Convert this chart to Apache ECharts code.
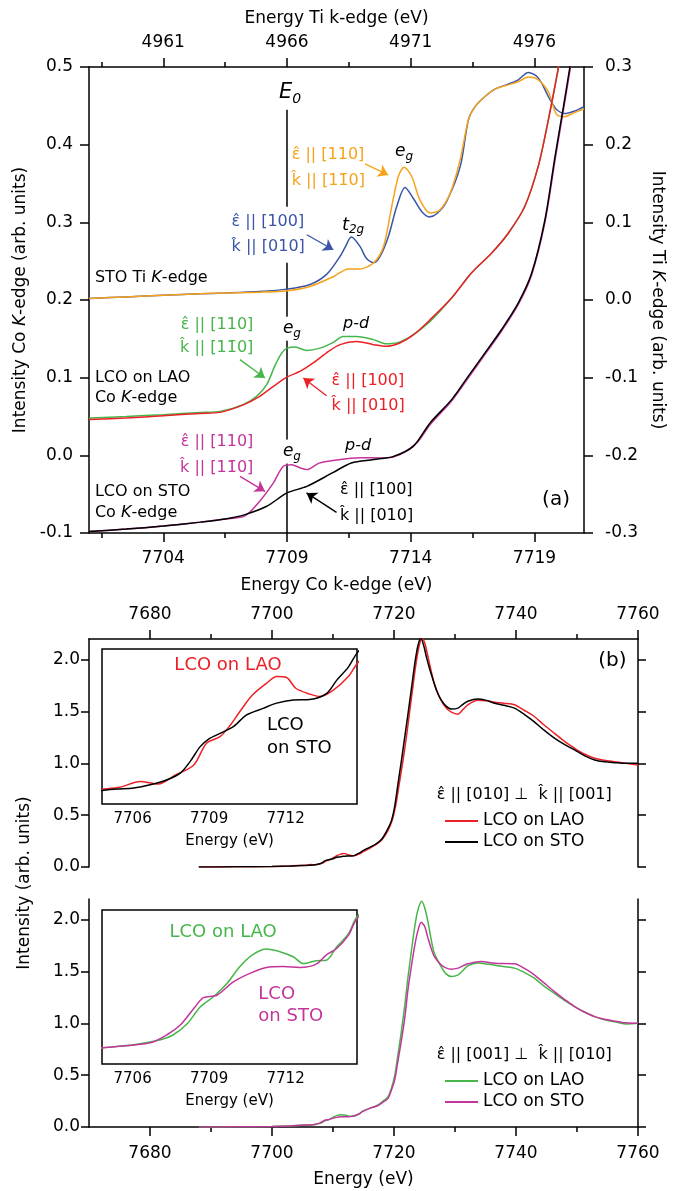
<!DOCTYPE html>
<html><head><meta charset="utf-8">
<script src="https://cdn.jsdelivr.net/npm/echarts@6/dist/echarts.min.js"></script>
<style>html,body{margin:0;padding:0;background:#fff}#c{width:675px;height:1191px}</style>
</head><body><div id="c"></div><script>
// ---------- Panel (a): STO Ti K-edge (top / right axes) ----------
const tiEnergyBlue = [4958.0,4959.5,4961.0,4962.5,4963.5,4964.9,4966.0,4966.93,4967.6,4968.14,4968.35,4968.6,4968.95,4969.2,4969.5,4969.76,4970.1,4970.43,4970.77,4971.1,4971.44,4971.75,4972.05,4972.45,4973.0,4973.33,4973.6,4974.0,4974.4,4974.94,4975.34,4975.75,4976.15,4976.56,4976.76,4976.9,4977.2,4977.6,4978.0];
const tiBlue = [0.002,0.004,0.006,0.008,0.009,0.011,0.014,0.020,0.033,0.056,0.068,0.081,0.069,0.054,0.048,0.056,0.082,0.120,0.145,0.131,0.114,0.107,0.111,0.127,0.172,0.232,0.249,0.262,0.2715,0.278,0.2835,0.293,0.286,0.262,0.251,0.245,0.240,0.243,0.249];
const tiEnergyOrange = [4958,4959.5,4961,4962.5,4963.5,4964.9,4966.0,4966.93,4967.87,4968.48,4968.95,4969.5,4969.9,4970.23,4970.5,4970.73,4971.04,4971.37,4971.78,4972.18,4972.6,4973.0,4973.33,4973.6,4974.0,4974.4,4974.94,4975.34,4975.75,4976.15,4976.56,4976.76,4976.9,4977.2,4977.6,4978.0];
const tiOrange = [0.002,0.004,0.006,0.008,0.009,0.010,0.012,0.0175,0.030,0.040,0.040,0.048,0.069,0.120,0.159,0.171,0.159,0.129,0.112,0.116,0.138,0.181,0.232,0.249,0.262,0.2715,0.277,0.281,0.287,0.2835,0.268,0.249,0.2385,0.236,0.241,0.246];
// ---------- Panel (a): LCO on LAO, Co K-edge ----------
const laoEnergyGreen = [7701,7702.5,7704,7705.48,7706.29,7707.23,7707.77,7708.18,7708.5,7708.79,7709.01,7709.32,7709.79,7710.33,7710.87,7711.27,7711.8,7712.5,7713.0,7713.43,7714.0,7714.78,7715.65,7716.46,7717.27,7717.94,7718.6,7719.15,7719.56,7719.97,7720.3];
const laoGreen = [0.048,0.050,0.0524,0.0553,0.0566,0.0653,0.076,0.091,0.1146,0.132,0.138,0.1395,0.135,0.138,0.1455,0.153,0.153,0.149,0.1437,0.1446,0.153,0.1725,0.2026,0.235,0.2605,0.286,0.320,0.372,0.432,0.50,0.56];
const laoEnergyRed = [7701,7702.5,7704,7705.48,7706.29,7707.23,7707.9,7708.45,7709.01,7709.52,7710.06,7710.6,7711.14,7711.8,7712.5,7713.0,7713.56,7714.1,7714.78,7715.65,7716.46,7717.27,7717.94,7718.6,7719.15,7719.56,7719.97,7720.3];
const laoRed = [0.046,0.048,0.051,0.054,0.0553,0.065,0.076,0.0888,0.1009,0.108,0.119,0.132,0.1425,0.1467,0.1425,0.1403,0.1446,0.155,0.1746,0.2026,0.235,0.2605,0.286,0.320,0.372,0.432,0.50,0.56];
// ---------- Panel (a): LCO on STO, Co K-edge ----------
const stoEnergyMagenta = [7701,7702.5,7704,7705.5,7706.5,7707.3,7707.9,7708.45,7708.85,7709.19,7709.52,7709.8,7710.3,7710.87,7711.95,7713.0,7713.56,7714.24,7714.78,7715.65,7716.32,7717.0,7717.67,7718.34,7718.88,7719.42,7719.83,7720.17,7720.43,7720.7];
const stoMagenta = [-0.098,-0.095,-0.091,-0.086,-0.082,-0.078,-0.059,-0.0355,-0.014,-0.012,-0.016,-0.0184,-0.010,-0.0065,-0.003,-0.0034,0.001,0.016,0.0395,0.070,0.0995,0.130,0.160,0.194,0.232,0.300,0.380,0.445,0.495,0.55];
const stoEnergyBlack = [7701,7702.5,7704,7705.5,7706.5,7707.3,7708.18,7709.0,7709.8,7710.87,7711.6,7712.5,7713.3,7714.1,7714.78,7715.65,7716.32,7717.0,7717.67,7718.34,7718.88,7719.42,7719.83,7720.17,7720.43,7720.7];
const stoBlack = [-0.098,-0.095,-0.091,-0.086,-0.082,-0.0763,-0.0656,-0.0484,-0.040,-0.022,-0.0098,-0.0055,-0.0013,0.0116,0.0417,0.0717,0.1017,0.132,0.162,0.196,0.234,0.303,0.385,0.449,0.50,0.55];
const E0 = 7709;
// ---------- Panel (b), top: eps || [010] ----------
const b1EnergyRed = [7688,7694,7700,7703,7704.8,7705.5,7706.3,7707.0,7707.7,7708.4,7708.9,7709.43,7709.82,7710.2,7710.7,7711.25,7711.65,7712.04,7712.4,7712.95,7713.35,7713.87,7714.46,7714.8,7716,7717,7718,7719,7719.7,7720.3,7720.8,7721.4,7722.0,7722.5,7723.1,7723.6,7724.1,7724.6,7725.1,7725.6,7726.1,7726.6,7727.3,7728.0,7729.0,7730.5,7731.3,7732.1,7733.7,7735,7736.5,7738,7739.75,7741.4,7743,7744.6,7746.3,7748,7749.6,7751.2,7752.9,7754.5,7756.1,7758,7760];
const b1Red = [0.0,0.002,0.005,0.010,0.015,0.017,0.023,0.0203,0.0298,0.0398,0.062,0.0687,0.080,0.094,0.111,0.123,0.130,0.129,0.118,0.112,0.1095,0.116,0.130,0.143,0.18,0.215,0.26,0.35,0.45,0.60,0.78,1.00,1.24,1.47,1.74,1.96,2.13,2.21,2.15,2.02,1.89,1.77,1.66,1.58,1.51,1.475,1.52,1.565,1.61,1.605,1.59,1.58,1.565,1.51,1.452,1.37,1.29,1.21,1.146,1.09,1.049,1.03,1.016,1.0,0.984];
const b1EnergyBlack = [7688,7694,7700,7703,7704.8,7705.4,7706.04,7706.69,7707.35,7707.87,7708.26,7708.65,7708.97,7709.43,7709.95,7710.47,7711.12,7711.65,7712.3,7712.95,7713.6,7714.0,7714.46,7714.8,7716,7717,7718,7719,7719.6,7720.1,7720.6,7721.2,7721.8,7722.3,7722.9,7723.4,7723.9,7724.4,7724.9,7725.3,7725.8,7726.4,7727.0,7727.7,7728.5,7729.4,7730.5,7731.3,7732.1,7733.7,7735,7736.5,7738,7739.75,7741.4,7743,7744.6,7746.3,7748,7749.6,7751.2,7752.9,7754.5,7756.1,7758,7760];
const b1Black = [0.0,0.002,0.005,0.009,0.0138,0.0152,0.0163,0.0196,0.0247,0.0315,0.0435,0.0585,0.066,0.072,0.0788,0.0908,0.0975,0.1028,0.106,0.1065,0.1125,0.126,0.1395,0.1538,0.19,0.22,0.27,0.37,0.45,0.58,0.78,1.02,1.27,1.48,1.74,1.96,2.13,2.21,2.13,2.03,1.92,1.807,1.70,1.614,1.555,1.524,1.533,1.57,1.60,1.62,1.61,1.58,1.56,1.533,1.47,1.40,1.32,1.243,1.18,1.13,1.075,1.033,1.015,1.007,1.0,1.0];
// ---------- Panel (b), bottom: eps || [001] ----------
const b2EnergyGreen = [7688,7694,7700,7703,7704.8,7706.04,7707.1,7707.6,7708.16,7708.65,7709.17,7709.7,7710.2,7710.7,7711.25,7711.8,7712.3,7712.7,7713.2,7713.6,7714.0,7714.46,7714.8,7716,7717.3,7718.2,7719,7719.6,7720.1,7720.6,7721.2,7721.8,7722.3,7722.9,7723.4,7723.9,7724.56,7725.0,7725.5,7726.0,7726.6,7727.7,7728.5,7729.4,7730.5,7731.3,7732.1,7733.7,7735.5,7737,7739.75,7741.4,7743,7744.6,7746.3,7748,7749.6,7751.2,7752.9,7754.5,7756.1,7758.3,7760];
const b2Green = [0.0,0.002,0.005,0.010,0.0164,0.0197,0.0248,0.030,0.0419,0.0585,0.069,0.0825,0.0998,0.112,0.118,0.115,0.110,0.103,0.106,0.1065,0.12,0.1335,0.151,0.18,0.21,0.25,0.29,0.38,0.49,0.68,0.92,1.19,1.45,1.72,1.93,2.09,2.178,2.12,2.0,1.84,1.678,1.549,1.48,1.452,1.468,1.51,1.556,1.582,1.57,1.556,1.533,1.49,1.436,1.36,1.29,1.22,1.162,1.11,1.065,1.035,1.016,0.994,1.0];
const b2EnergyMagenta = [7688,7694,7700,7703,7704.8,7706.69,7707.35,7707.87,7708.4,7708.78,7709.3,7709.95,7710.6,7711.25,7711.9,7712.56,7713.2,7713.6,7714.0,7714.46,7714.8,7716,7717.3,7718.2,7719,7719.6,7720.1,7720.6,7721.2,7721.8,7722.3,7722.9,7723.4,7723.9,7724.46,7725.0,7725.5,7726.0,7726.6,7727.7,7728.5,7729.4,7730.5,7731.3,7732.1,7734.3,7736.5,7739.75,7741.4,7743,7744.6,7746.3,7748,7749.6,7751.2,7752.9,7754.5,7756.1,7758,7760];
const b2Magenta = [0.0,0.002,0.005,0.010,0.0165,0.0218,0.030,0.040,0.057,0.068,0.0705,0.0843,0.093,0.099,0.10,0.099,0.1024,0.112,0.1185,0.132,0.149,0.18,0.205,0.24,0.274,0.36,0.45,0.62,0.83,1.07,1.33,1.57,1.75,1.89,1.975,1.94,1.839,1.74,1.646,1.565,1.535,1.523,1.533,1.555,1.575,1.597,1.58,1.575,1.53,1.468,1.39,1.307,1.23,1.162,1.11,1.065,1.04,1.023,1.005,1.0];
// ---------- Tick values ----------
const aCoTicks = [7704,7709,7714,7719];
const aCoMinor = [7701.5,7706.5,7711.5,7716.5];
const aTiTicks = [4961,4966,4971,4976];
const aTiMinor = [4958.5,4963.5,4968.5,4973.5];
const aLeftTicks = [-0.1,0,0.1,0.2,0.3,0.4,0.5];
const aRightTicks = [-0.3,-0.2,-0.1,0,0.1,0.2,0.3];
const bTicks = [7680,7700,7720,7740,7760];
const bMinor = [7690,7710,7730,7750];
const bYTicks = [0,0.5,1,1.5,2];
const insetTicks = [7706,7709,7712];
const insetMinor = [7705,7707,7708,7710,7711,7713,7714];

const F = 'DejaVu Sans';
const K = '#000';
const COL = {blue:'#3a55a6', orange:'#f6a31b', green:'#46b64a', red:'#ec2027', magenta:'#c4359b'};
const EPS = '\u03b5\u0302', KH = 'k\u0302', ONEBAR = '1\u0304';
const zip = (xs, ys) => xs.map((x, i) => [x, ys[i]]);

const RICH = {
  i:{fontStyle:'italic', fontFamily:F, fontSize:16, color:K},
  n:{fontFamily:F, fontSize:16, color:K},
  e:{fontStyle:'italic', fontFamily:F, fontSize:17, lineHeight:22, color:K},
  g:{fontStyle:'italic', fontFamily:F, fontSize:12, lineHeight:12, verticalAlign:'bottom', color:K},
  E:{fontStyle:'italic', fontFamily:F, fontSize:21, lineHeight:26, color:K},
  s:{fontStyle:'italic', fontFamily:F, fontSize:14, lineHeight:12, verticalAlign:'bottom', color:K},
  t:{fontStyle:'italic', fontFamily:F, fontSize:18, lineHeight:22, color:K}
};
function mp(coord, text, o) {
  o = o || {};
  const lab = {show:true, formatter:text, position:o.pos || 'inside', distance:0,
    color:o.color || K, fontSize:o.size || 16, fontFamily:F, rich:RICH,
    fontStyle:o.italic ? 'italic' : 'normal'};
  if (o.lh) lab.lineHeight = o.lh;
  if (o.bg) { lab.backgroundColor = o.bg; lab.padding = o.pad || [2,1]; }
  return {coord:coord, symbol:'circle', symbolSize:0, label:lab};
}
function arrow(from, to, color) {
  return [{coord:from, lineStyle:{color:color, width:1.4, type:'solid'}}, {coord:to}];
}
const lineW = 1.5;
function curve(name, xs, ys, color, xi, yi, extra) {
  return Object.assign({name:name, type:'line', xAxisIndex:xi, yAxisIndex:yi, data:zip(xs, ys),
    showSymbol:false, symbol:'none', clip:true, animation:false, silent:true, smooth:0.3,
    lineStyle:{color:color, width:lineW}, itemStyle:{color:color}, z:3}, extra || {});
}
const axLine = {show:true, onZero:false, lineStyle:{color:K, width:1.5}};
const noLine = {show:false, onZero:false};
const plain = v => String(+v);
const lbl = (vals, size, margin, fmt) => ({show:true, customValues:vals, fontSize:size, margin:margin, color:K, fontFamily:F, formatter:fmt || plain});
const tick = (vals, len, inside) => ({show:true, customValues:vals, length:len, inside:!!inside, lineStyle:{color:K, width:1.5}});
const nameTS = {fontSize:17, color:K, fontFamily:F, rich:{i:{fontStyle:'italic', fontSize:17, color:K, fontFamily:F}}};
const f1 = v => (+v).toFixed(1);

const grids = [
  {left:89, top:67, width:495, height:466},            // 0 panel a
  {left:89, top:67, width:495, height:466},            // 1 panel a minor ticks
  {left:89, top:639, width:549, height:228},           // 2 b top
  {left:89, top:639, width:549, height:228},           // 3 b top minor
  {left:89, top:899, width:549, height:228},           // 4 b bottom
  {left:89, top:899, width:549, height:228},           // 5 b bottom minor
  {left:102, top:649, width:255, height:155, show:true, backgroundColor:'#fff', borderColor:K, borderWidth:1.5, z:1}, // 6 inset 1
  {left:102, top:649, width:255, height:155},          // 7 inset 1 minor
  {left:102, top:910, width:255, height:154, show:true, backgroundColor:'#fff', borderColor:K, borderWidth:1.5, z:1}, // 8 inset 2
  {left:102, top:910, width:255, height:154}           // 9 inset 2 minor
];
const base = {type:'value', splitLine:{show:false}};
const xAxes = [
  Object.assign({}, base, {gridIndex:0, position:'bottom', min:7701, max:7721, axisLine:axLine, axisTick:tick(aCoTicks, 9), axisLabel:lbl(aCoTicks, 17, 17),
    name:'Energy Co k-edge (eV)', nameLocation:'middle', nameGap:44, nameTextStyle:nameTS}),
  Object.assign({}, base, {gridIndex:0, position:'top', min:4958, max:4978, axisLine:axLine, axisTick:tick(aTiTicks, 9), axisLabel:lbl(aTiTicks, 17, 16),
    name:'Energy Ti k-edge (eV)', nameLocation:'middle', nameGap:40, nameTextStyle:nameTS}),
  Object.assign({}, base, {gridIndex:1, position:'bottom', min:7701, max:7721, axisLine:noLine, axisTick:tick(aCoMinor, 5), axisLabel:{show:false}}),
  Object.assign({}, base, {gridIndex:1, position:'top', min:4958, max:4978, axisLine:noLine, axisTick:tick(aTiMinor, 5), axisLabel:{show:false}}),
  Object.assign({}, base, {gridIndex:2, position:'top', min:7670, max:7760, axisLine:axLine, axisTick:tick(bTicks, 9), axisLabel:lbl(bTicks, 17, 16)}),
  Object.assign({}, base, {gridIndex:3, position:'top', min:7670, max:7760, axisLine:noLine, axisTick:tick(bMinor, 5), axisLabel:{show:false}}),
  Object.assign({}, base, {gridIndex:4, position:'bottom', min:7670, max:7760, axisLine:axLine, axisTick:tick(bTicks, 9), axisLabel:lbl(bTicks, 17, 18),
    name:'Energy (eV)', nameLocation:'middle', nameGap:44, nameTextStyle:nameTS}),
  Object.assign({}, base, {gridIndex:5, position:'bottom', min:7670, max:7760, axisLine:noLine, axisTick:tick(bMinor, 5), axisLabel:{show:false}}),
  Object.assign({}, base, {gridIndex:6, position:'bottom', min:7704.8, max:7714.8, axisLine:noLine, axisTick:tick(insetTicks, 8, true), axisLabel:lbl(insetTicks, 15, 8),
    name:'Energy (eV)', nameLocation:'middle', nameGap:30, nameTextStyle:{fontSize:15, color:K, fontFamily:F}}),
  Object.assign({}, base, {gridIndex:7, position:'bottom', min:7704.8, max:7714.8, axisLine:noLine, axisTick:tick(insetMinor, 5, true), axisLabel:{show:false}}),
  Object.assign({}, base, {gridIndex:8, position:'bottom', min:7704.8, max:7714.8, axisLine:noLine, axisTick:tick(insetTicks, 8, true), axisLabel:lbl(insetTicks, 15, 8),
    name:'Energy (eV)', nameLocation:'middle', nameGap:30, nameTextStyle:{fontSize:15, color:K, fontFamily:F}}),
  Object.assign({}, base, {gridIndex:9, position:'bottom', min:7704.8, max:7714.8, axisLine:noLine, axisTick:tick(insetMinor, 5, true), axisLabel:{show:false}})
];
const hiddenY = (g, min, max) => Object.assign({}, base, {gridIndex:g, show:false, min:min, max:max});
const yAxes = [
  Object.assign({}, base, {gridIndex:0, position:'left', min:-0.1, max:0.5, axisLine:axLine, axisTick:tick(aLeftTicks, 9), axisLabel:lbl(aLeftTicks, 17, 16, f1),
    name:'Intensity Co {i|K}-edge (arb. units)', nameLocation:'middle', nameGap:54, nameTextStyle:nameTS}),
  Object.assign({}, base, {gridIndex:0, position:'right', min:-0.3, max:0.3, axisLine:axLine, axisTick:tick(aRightTicks, 9), axisLabel:lbl(aRightTicks, 17, 21, f1),
    name:'Intensity Ti {i|K}-edge (arb. units)', nameLocation:'middle', nameGap:64, nameRotate:-90, nameTextStyle:nameTS}),
  hiddenY(1, -0.1, 0.5),
  Object.assign({}, base, {gridIndex:2, position:'left', min:0, max:2.2, axisLine:axLine, axisTick:tick(bYTicks, 8), axisLabel:lbl(bYTicks, 17, 9, f1)}),
  Object.assign({}, base, {gridIndex:2, position:'right', min:0, max:2.2, axisLine:axLine, axisTick:tick(bYTicks, 8), axisLabel:{show:false}}),
  hiddenY(3, 0, 2.2),
  Object.assign({}, base, {gridIndex:4, position:'left', min:0, max:2.2, axisLine:axLine, axisTick:tick(bYTicks, 8), axisLabel:lbl(bYTicks, 17, 9, f1)}),
  Object.assign({}, base, {gridIndex:4, position:'right', min:0, max:2.2, axisLine:axLine, axisTick:tick(bYTicks, 8), axisLabel:{show:false}}),
  hiddenY(5, 0, 2.2),
  hiddenY(6, 0, 0.158),
  hiddenY(7, 0, 0.158),
  hiddenY(8, 0, 0.158),
  hiddenY(9, 0, 0.158)
];

const l110 = EPS + ' || [110]\n' + KH + ' || [1' + ONEBAR + '0]';
const l100 = EPS + ' || [100]\n' + KH + ' || [010]';
const annotA = {
  symbol:'circle', symbolSize:0, silent:true, animation:false, z:6,
  data:[
    mp([7708.68, 0.4667], '{E|E}{s|0}', {pos:'right'}),
    mp([7706.76, 0.284], l100, {pos:'right', color:COL.blue, lh:25, bg:'#fff', pad:[3,0,3,0]}),
    mp([7711.67, 0.2965], '{t|t}{g|2g}'),
    mp([7709.19, 0.370], l110, {pos:'right', color:COL.orange, lh:26}),
    mp([7713.73, 0.391], '{e|e}{g|g}'),
    mp([7701.24, 0.2283], '{n|STO Ti }{i|K}{n|-edge}', {pos:'right'}),
    mp([7701.24, 0.0871], '{n|LCO on LAO}\n{n|Co }{i|K}{n|-edge}', {pos:'right', lh:20}),
    mp([7707.64, 0.153], l110, {pos:'left', color:COL.green, lh:23}),
    mp([7709.2, 0.163], '{e|e}{g|g}', {bg:'#fff', pad:[1,1]}),
    mp([7711.79, 0.1695], 'p-d', {italic:true}),
    mp([7710.80, 0.0794], l100, {pos:'right', color:COL.red, lh:25}),
    mp([7707.64, 0.0009], l110, {pos:'left', color:COL.magenta, lh:26}),
    mp([7709.2, 0.0048], '{e|e}{g|g}', {bg:'#fff', pad:[1,1]}),
    mp([7711.87, 0.0118], 'p-d', {italic:true}),
    mp([7701.24, -0.0602], '{n|LCO on STO}\n{n|Co }{i|K}{n|-edge}', {pos:'right', lh:21}),
    mp([7711.14, -0.0613], l100, {pos:'right', color:K, lh:26}),
    mp([7719.87, -0.057], '(a)', {size:20})
  ]
};
const arrowsA = {
  silent:true, animation:false, symbol:['none','arrow'], symbolSize:10, label:{show:false}, z:6,
  data:[
    arrow([7709.80, 0.2840], [7710.87, 0.2647], COL.blue),
    arrow([7712.15, 0.3754], [7713.09, 0.361], COL.orange),
    arrow([7707.10, 0.1232], [7708.11, 0.0996], COL.green),
    arrow([7710.60, 0.0768], [7709.66, 0.0996], COL.red),
    arrow([7707.10, -0.027], [7708.11, -0.0463], COL.magenta),
    arrow([7711.00, -0.0734], [7709.79, -0.0484], K)
  ]
};
const hdr1 = EPS + ' || [010] \u22a5  ' + KH + ' || [001]';
const hdr2 = EPS + ' || [001] \u22a5  ' + KH + ' || [010]';

const series = [
  curve('Ti e||[100]', tiEnergyBlue, tiBlue, COL.blue, 1, 1),
  curve('Ti e||[110]', tiEnergyOrange, tiOrange, COL.orange, 1, 1),
  curve('LAO e||[110]', laoEnergyGreen, laoGreen, COL.green, 0, 0),
  curve('LAO e||[100]', laoEnergyRed, laoRed, COL.red, 0, 0),
  curve('STO e||[110]', stoEnergyMagenta, stoMagenta, COL.magenta, 0, 0),
  curve('STO e||[100]', stoEnergyBlack, stoBlack, K, 0, 0),
  {name:'E0', type:'line', xAxisIndex:0, yAxisIndex:0, data:[[E0, -0.1], [E0, 0.445]], symbol:'none', silent:true, animation:false,
    lineStyle:{color:K, width:1.5}, z:2, markPoint:annotA, markLine:arrowsA},
  curve('b1|LCO on LAO', b1EnergyRed, b1Red, COL.red, 4, 3, {markPoint:{symbolSize:0, silent:true, animation:false, data:[
    mp([7755.8, 1.985], '(b)', {size:20}),
    mp([7727.0, 0.694], hdr1, {pos:'right'})
  ]}}),
  curve('b1|LCO on STO', b1EnergyBlack, b1Black, K, 4, 3),
  curve('b2|LCO on LAO', b2EnergyGreen, b2Green, COL.green, 6, 6, {markPoint:{symbolSize:0, silent:true, animation:false, data:[
    mp([7727.0, 0.694], hdr2, {pos:'right'})
  ]}}),
  curve('b2|LCO on STO', b2EnergyMagenta, b2Magenta, COL.magenta, 6, 6),
  curve('i1|LCO on LAO', b1EnergyRed, b1Red, COL.red, 8, 9, {z:5, markPoint:{symbolSize:0, silent:true, animation:false, data:[
    mp([7709.74, 0.1415], 'LCO on LAO', {color:COL.red, size:18}),
    mp([7711.27, 0.0687], 'LCO\non STO', {pos:'right', color:K, size:18, lh:23})
  ]}}),
  curve('i1|LCO on STO', b1EnergyBlack, b1Black, K, 8, 9, {z:5}),
  curve('i2|LCO on LAO', b2EnergyGreen, b2Green, COL.green, 10, 11, {z:5, markPoint:{symbolSize:0, silent:true, animation:false, data:[
    mp([7709.55, 0.1354], 'LCO on LAO', {color:COL.green, size:18}),
    mp([7710.93, 0.0597], 'LCO\non STO', {pos:'right', color:COL.magenta, size:18, lh:22})
  ]}}),
  curve('i2|LCO on STO', b2EnergyMagenta, b2Magenta, COL.magenta, 10, 11, {z:5})
];

const legendBase = {orient:'vertical', icon:'rect', itemWidth:33, itemHeight:2, itemGap:1, selectedMode:false,
  textStyle:{fontSize:17, lineHeight:20, color:K, fontFamily:F}, formatter:n => n.split('|')[1], left:440};
const option = {
  animation:false,
  backgroundColor:'#fff',
  grid:grids,
  xAxis:xAxes,
  yAxis:yAxes,
  legend:[
    Object.assign({}, legendBase, {top:806, data:['b1|LCO on LAO','b1|LCO on STO']}),
    Object.assign({}, legendBase, {top:1066, data:['b2|LCO on LAO','b2|LCO on STO']})
  ],
  graphic:[{type:'text', x:25, y:883, rotation:Math.PI/2, silent:true,
    style:{text:'Intensity (arb. units)', fill:K, font:'17px "DejaVu Sans"', align:'center', verticalAlign:'middle', textAlign:'center', textVerticalAlign:'middle'}}],
  series:series
};
const chart = echarts.init(document.getElementById('c'), null, {renderer:'canvas'});
chart.setOption(option);
</script></body></html>
